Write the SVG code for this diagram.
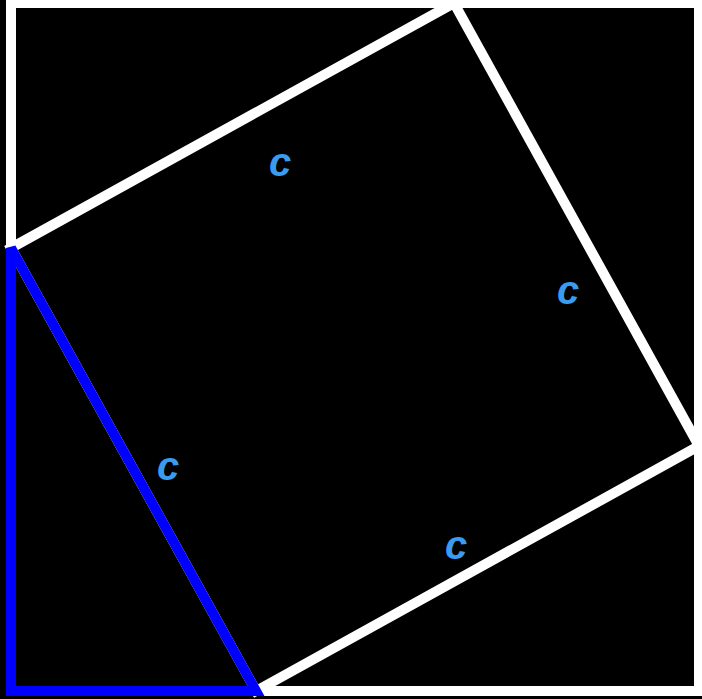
<svg xmlns="http://www.w3.org/2000/svg" width="702" height="699" viewBox="0 0 702 699">
  <style>
    .w { fill: none; stroke: #ffffff; stroke-width: 10; stroke-linejoin: miter; }
    .b { fill: none; stroke: #0000ff; stroke-width: 10; stroke-linejoin: miter; stroke-miterlimit: 3; }
    .lbl { font-family: "Liberation Sans", Arial, sans-serif; font-size: 40px; font-weight: bold; font-style: italic; fill: #3a9bf0; text-anchor: middle; }
  </style>
  <rect x="0" y="0" width="702" height="699" fill="#000000"/>
  <g id="outer-square">
    <rect class="w" x="11" y="3" width="688" height="688"/>
  </g>
  <g id="inner-square">
    <polygon class="w" points="11,248 454,3 699,446 256,691"/>
  </g>
  <g id="triangle">
    <polygon class="b" points="11,248 11,691 256,691"/>
  </g>
  <g id="labels">
    <text class="lbl" x="280" y="176">c</text>
    <text class="lbl" x="568" y="304">c</text>
    <text class="lbl" x="168" y="480">c</text>
    <text class="lbl" x="456" y="559">c</text>
  </g>
</svg>
